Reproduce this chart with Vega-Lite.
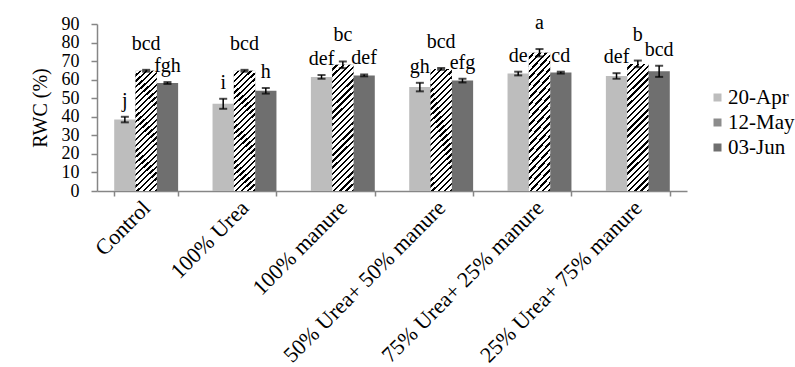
{
  "$schema": "https://vega.github.io/schema/vega-lite/v6.json",
  "width": 590,
  "height": 167,
  "autosize": "none",
  "padding": {"left": 97, "top": 24, "right": 108, "bottom": 176},
  "background": "white",
  "config": {
    "view": {"stroke": null},
    "font": "Liberation Serif",
    "axis": {
      "labelFont": "Liberation Serif",
      "titleFont": "Liberation Serif",
      "labelColor": "black",
      "titleColor": "black",
      "domainColor": "#868686",
      "tickColor": "#868686",
      "domainWidth": 1.5,
      "tickWidth": 1.5,
      "grid": false
    },
    "axisY": {
      "titleFontSize": 20,
      "titleFontWeight": "normal",
      "titlePadding": 11,
      "labelFontSize": 18,
      "labelPadding": 12,
      "labelOverlap": false,
      "labelFlush": false,
      "tickSize": 6,
      "tickCount": 10
    }
  },
  "data": {
    "values": [
      {"treatment": "Control", "date": "20-Apr", "rwc": 38.5, "se": 1.5, "letter": "j"},
      {"treatment": "Control", "date": "12-May", "rwc": 64.8, "se": 0.5, "letter": "bcd"},
      {"treatment": "Control", "date": "03-Jun", "rwc": 58.2, "se": 0.5, "letter": "fgh"},
      {"treatment": "100% Urea", "date": "20-Apr", "rwc": 47.0, "se": 2.7, "letter": "i"},
      {"treatment": "100% Urea", "date": "12-May", "rwc": 64.8, "se": 0.5, "letter": "bcd"},
      {"treatment": "100% Urea", "date": "03-Jun", "rwc": 54.0, "se": 1.5, "letter": "h"},
      {"treatment": "100% manure", "date": "20-Apr", "rwc": 61.5, "se": 1.0, "letter": "def"},
      {"treatment": "100% manure", "date": "12-May", "rwc": 68.0, "se": 1.8, "letter": "bc"},
      {"treatment": "100% manure", "date": "03-Jun", "rwc": 62.3, "se": 0.5, "letter": "def"},
      {"treatment": "50% Urea+ 50% manure", "date": "20-Apr", "rwc": 56.0, "se": 2.3, "letter": "gh"},
      {"treatment": "50% Urea+ 50% manure", "date": "12-May", "rwc": 65.8, "se": 0.5, "letter": "bcd"},
      {"treatment": "50% Urea+ 50% manure", "date": "03-Jun", "rwc": 59.5, "se": 1.0, "letter": "efg"},
      {"treatment": "75% Urea+ 25% manure", "date": "20-Apr", "rwc": 63.3, "se": 1.0, "letter": "de"},
      {"treatment": "75% Urea+ 25% manure", "date": "12-May", "rwc": 74.5, "se": 2.0, "letter": "a"},
      {"treatment": "75% Urea+ 25% manure", "date": "03-Jun", "rwc": 63.8, "se": 0.5, "letter": "cd"},
      {"treatment": "25% Urea+ 75% manure", "date": "20-Apr", "rwc": 62.0, "se": 1.5, "letter": "def"},
      {"treatment": "25% Urea+ 75% manure", "date": "12-May", "rwc": 68.5, "se": 1.8, "letter": "b"},
      {"treatment": "25% Urea+ 75% manure", "date": "03-Jun", "rwc": 64.5, "se": 3.0, "letter": "bcd"}
    ]
  },
  "transform": [
    {"calculate": "datum.rwc - datum.se", "as": "lo"},
    {"calculate": "datum.rwc + datum.se", "as": "hi"}
  ],
  "encoding": {
    "x": {
      "field": "treatment",
      "type": "nominal",
      "sort": null,
      "scale": {"paddingInner": 0.35, "paddingOuter": 0.175},
      "axis": {
        "title": null,
        "labelAngle": -45,
        "labelAlign": "right",
        "labelBaseline": "middle",
        "labelFontSize": 22,
        "labelPadding": 8,
        "tickSize": 5,
        "tickBand": "extent",
        "labelLimit": 400,
        "labelOverlap": false
      }
    },
    "xOffset": {
      "field": "date",
      "type": "nominal",
      "sort": ["20-Apr", "12-May", "03-Jun"],
      "scale": {"paddingInner": 0, "paddingOuter": 0}
    }
  },
  "layer": [
    {
      "mark": {"type": "bar"},
      "encoding": {
        "y": {
          "field": "rwc",
          "type": "quantitative",
          "scale": {"domain": [0, 90], "nice": false},
          "axis": {"title": "RWC (%)"}
        },
        "color": {
          "field": "date",
          "type": "nominal",
          "sort": ["20-Apr", "12-May", "03-Jun"],
          "scale": {"domain": ["20-Apr", "12-May", "03-Jun"], "range": ["#bdbdbd", "#8c8c8c", "#6f6f6f"]},
          "legend": {
            "title": null,
            "orient": "none",
            "legendX": 610,
            "legendY": 63,
            "symbolType": "square",
            "symbolSize": 64,
            "symbolStrokeWidth": 0,
            "labelFont": "Liberation Serif",
            "labelFontSize": 21,
            "labelColor": "black",
            "labelOffset": 0,
            "rowPadding": 3
          }
        }
      }
    },
    {
      "transform": [{"filter": "datum.date === '12-May'"}],
      "mark": {
        "type": "bar",
        "fill": {
          "gradient": "linear",
          "x1": 0, "y1": 0, "x2": 0.189, "y2": 1.135,
          "stops": [
            {"offset": 0, "color": "white"}, {"offset": 0.0258, "color": "white"}, {"offset": 0.0258, "color": "black"}, {"offset": 0.0417, "color": "black"},
            {"offset": 0.0417, "color": "white"}, {"offset": 0.0675, "color": "white"}, {"offset": 0.0675, "color": "black"}, {"offset": 0.0833, "color": "black"},
            {"offset": 0.0833, "color": "white"}, {"offset": 0.1092, "color": "white"}, {"offset": 0.1092, "color": "black"}, {"offset": 0.125, "color": "black"},
            {"offset": 0.125, "color": "white"}, {"offset": 0.1508, "color": "white"}, {"offset": 0.1508, "color": "black"}, {"offset": 0.1667, "color": "black"},
            {"offset": 0.1667, "color": "white"}, {"offset": 0.1925, "color": "white"}, {"offset": 0.1925, "color": "black"}, {"offset": 0.2083, "color": "black"},
            {"offset": 0.2083, "color": "white"}, {"offset": 0.2342, "color": "white"}, {"offset": 0.2342, "color": "black"}, {"offset": 0.25, "color": "black"},
            {"offset": 0.25, "color": "white"}, {"offset": 0.2758, "color": "white"}, {"offset": 0.2758, "color": "black"}, {"offset": 0.2917, "color": "black"},
            {"offset": 0.2917, "color": "white"}, {"offset": 0.3175, "color": "white"}, {"offset": 0.3175, "color": "black"}, {"offset": 0.3333, "color": "black"},
            {"offset": 0.3333, "color": "white"}, {"offset": 0.3592, "color": "white"}, {"offset": 0.3592, "color": "black"}, {"offset": 0.375, "color": "black"},
            {"offset": 0.375, "color": "white"}, {"offset": 0.4008, "color": "white"}, {"offset": 0.4008, "color": "black"}, {"offset": 0.4167, "color": "black"},
            {"offset": 0.4167, "color": "white"}, {"offset": 0.4425, "color": "white"}, {"offset": 0.4425, "color": "black"}, {"offset": 0.4583, "color": "black"},
            {"offset": 0.4583, "color": "white"}, {"offset": 0.4842, "color": "white"}, {"offset": 0.4842, "color": "black"}, {"offset": 0.5, "color": "black"},
            {"offset": 0.5, "color": "white"}, {"offset": 0.5258, "color": "white"}, {"offset": 0.5258, "color": "black"}, {"offset": 0.5417, "color": "black"},
            {"offset": 0.5417, "color": "white"}, {"offset": 0.5675, "color": "white"}, {"offset": 0.5675, "color": "black"}, {"offset": 0.5833, "color": "black"},
            {"offset": 0.5833, "color": "white"}, {"offset": 0.6092, "color": "white"}, {"offset": 0.6092, "color": "black"}, {"offset": 0.625, "color": "black"},
            {"offset": 0.625, "color": "white"}, {"offset": 0.6508, "color": "white"}, {"offset": 0.6508, "color": "black"}, {"offset": 0.6667, "color": "black"},
            {"offset": 0.6667, "color": "white"}, {"offset": 0.6925, "color": "white"}, {"offset": 0.6925, "color": "black"}, {"offset": 0.7083, "color": "black"},
            {"offset": 0.7083, "color": "white"}, {"offset": 0.7342, "color": "white"}, {"offset": 0.7342, "color": "black"}, {"offset": 0.75, "color": "black"},
            {"offset": 0.75, "color": "white"}, {"offset": 0.7758, "color": "white"}, {"offset": 0.7758, "color": "black"}, {"offset": 0.7917, "color": "black"},
            {"offset": 0.7917, "color": "white"}, {"offset": 0.8175, "color": "white"}, {"offset": 0.8175, "color": "black"}, {"offset": 0.8333, "color": "black"},
            {"offset": 0.8333, "color": "white"}, {"offset": 0.8592, "color": "white"}, {"offset": 0.8592, "color": "black"}, {"offset": 0.875, "color": "black"},
            {"offset": 0.875, "color": "white"}, {"offset": 0.9008, "color": "white"}, {"offset": 0.9008, "color": "black"}, {"offset": 0.9167, "color": "black"},
            {"offset": 0.9167, "color": "white"}, {"offset": 0.9425, "color": "white"}, {"offset": 0.9425, "color": "black"}, {"offset": 0.9583, "color": "black"},
            {"offset": 0.9583, "color": "white"}, {"offset": 0.9842, "color": "white"}, {"offset": 0.9842, "color": "black"}, {"offset": 1, "color": "black"}
          ]
        }
      },
      "encoding": {
        "y": {"field": "rwc", "type": "quantitative"}
      }
    },
    {
      "mark": {"type": "rule", "color": "black", "strokeWidth": 1.5},
      "encoding": {
        "y": {"field": "lo", "type": "quantitative"},
        "y2": {"field": "hi"}
      }
    },
    {
      "mark": {"type": "tick", "color": "black", "size": 8, "thickness": 2, "orient": "horizontal"},
      "encoding": {
        "y": {"field": "lo", "type": "quantitative"}
      }
    },
    {
      "mark": {"type": "tick", "color": "black", "size": 8, "thickness": 2, "orient": "horizontal"},
      "encoding": {
        "y": {"field": "hi", "type": "quantitative"}
      }
    },
    {
      "transform": [{"filter": "datum.date !== '12-May'"}],
      "mark": {"type": "text", "font": "Liberation Serif", "fontSize": 20, "color": "black", "align": "center", "baseline": "alphabetic", "dy": -10},
      "encoding": {
        "y": {"field": "hi", "type": "quantitative"},
        "text": {"field": "letter", "type": "nominal"}
      }
    },
    {
      "transform": [{"filter": "datum.date === '12-May'"}],
      "mark": {"type": "text", "font": "Liberation Serif", "fontSize": 20, "color": "black", "align": "center", "baseline": "alphabetic", "dy": -20},
      "encoding": {
        "y": {"field": "hi", "type": "quantitative"},
        "text": {"field": "letter", "type": "nominal"}
      }
    }
  ]
}
